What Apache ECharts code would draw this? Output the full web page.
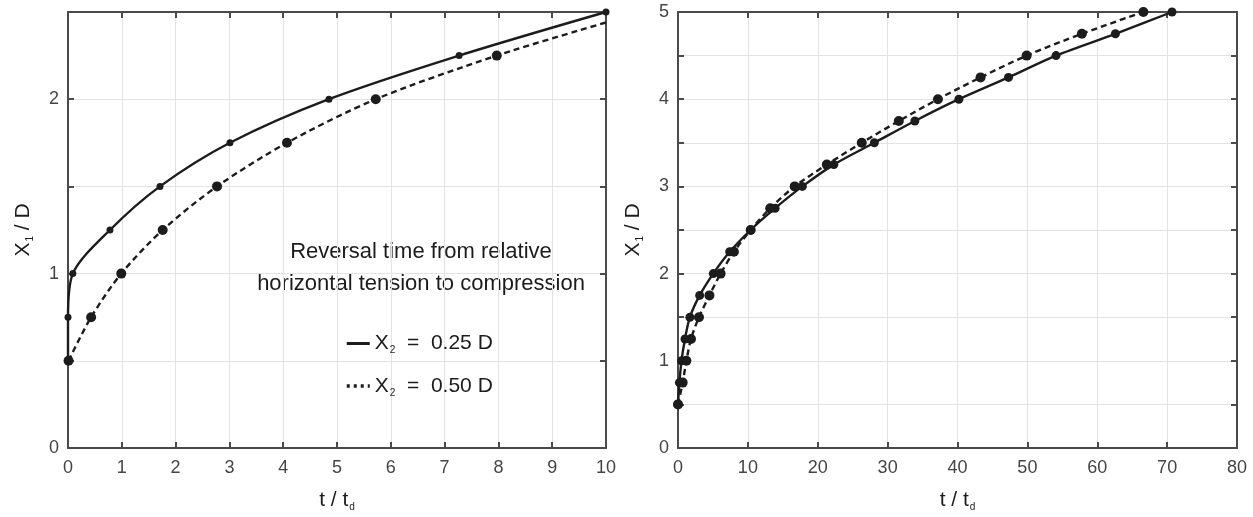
<!DOCTYPE html>
<html><head><meta charset="utf-8">
<script src="https://cdn.jsdelivr.net/npm/echarts@6/dist/echarts.min.js"></script>
<style>html,body{margin:0;padding:0;background:#fff}#c{width:1253px;height:517px}</style>
</head><body><div id="c"></div>
<script>
// ---- Left panel data (t / t_d vs X1 / D) ----
const leftX1_025 = [0.5, 0.75, 1.0, 1.25, 1.5, 1.75, 2.0, 2.25, 2.5];
const leftT_025  = [0, 0, 0.09, 0.78, 1.71, 3.01, 4.85, 7.27, 10.0];
const leftX1_050 = [0.5, 0.75, 1.0, 1.25, 1.5, 1.75, 2.0, 2.25];
const leftT_050  = [0.01, 0.43, 0.99, 1.76, 2.77, 4.07, 5.72, 7.97];
const leftEnd_050 = [10.0, 2.44]; // curve end without marker
// ---- Right panel data ----
const rightX1 = [0.5, 0.75, 1.0, 1.25, 1.5, 1.75, 2.0, 2.25, 2.5, 2.75, 3.0, 3.25, 3.5, 3.75, 4.0, 4.25, 4.5, 4.75, 5.0];
const rightT_solid  = [0, 0.2, 0.5, 1.0, 1.7, 3.1, 5.05, 7.4, 10.4, 13.9, 17.8, 22.3, 28.1, 33.9, 40.2, 47.3, 54.1, 62.6, 70.7];
const rightT_dashed = [0, 0.67, 1.2, 1.86, 3.0, 4.5, 6.1, 8.0, 10.4, 13.2, 16.7, 21.3, 26.3, 31.6, 37.2, 43.3, 49.9, 57.8, 66.6];
// ---- Axis ticks ----
const leftXTicks = [0, 10, 1];
const leftYTicks = [0, 2.5, 0.5];
const rightXTicks = [0, 80, 10];
const rightYTicks = [0, 5, 0.5];
const legendNames = ['X2 = 0.25 D', 'X2 = 0.50 D'];
const noteLines = ['Reversal time from relative', 'horizontal tension to compression'];

const FONT = '"Liberation Sans", Arial, Helvetica, sans-serif';
const AX = '#4a4a4a';
const INK = '#1c1c1c';

function zip(xs, ys) { return xs.map((x, i) => [x, ys[i]]); }

const nameRich = {
  n: { fontSize: 21, color: INK, fontFamily: FONT },
  s: { fontSize: 10, color: INK, fontFamily: FONT, padding: [14, 0, 0, 1] }
};

function xAx(grid, t, top, nameText) {
  return {
    type: 'value', gridIndex: grid, position: top ? 'top' : 'bottom',
    min: t[0], max: t[1], interval: t[2],
    axisLine: { show: true, onZero: false, lineStyle: { color: AX, width: 2 } },
    axisTick: { show: true, inside: true, length: 6, lineStyle: { color: AX, width: 2 } },
    axisLabel: { show: !top, fontSize: 18, color: '#454545', fontFamily: FONT, margin: 11, showMinLabel: true, showMaxLabel: true },
    splitLine: { show: !top, lineStyle: { color: '#e3e3e3', width: 1 } },
    name: top ? '' : nameText, nameLocation: 'middle', nameGap: 40,
    nameTextStyle: { rich: nameRich }
  };
}
function yAx(grid, t, right, nameText) {
  return {
    type: 'value', gridIndex: grid, position: right ? 'right' : 'left',
    min: t[0], max: t[1], interval: t[2],
    axisLine: { show: true, onZero: false, lineStyle: { color: AX, width: 2 } },
    axisTick: { show: true, inside: true, length: 6, lineStyle: { color: AX, width: 2 } },
    axisLabel: { show: !right, fontSize: 18, color: '#454545', fontFamily: FONT, margin: 9,
      showMinLabel: true, showMaxLabel: true,
      formatter: v => (Math.abs(v - Math.round(v)) < 1e-9 ? String(Math.round(v)) : '') },
    splitLine: { show: !right, lineStyle: { color: '#e3e3e3', width: 1 } },
    name: right ? '' : nameText, nameLocation: 'middle', nameGap: 33, nameRotate: 90,
    nameTextStyle: { rich: nameRich }
  };
}

const xName = '{n|t / t}{s|d}';
const yName = '{n|X}{s|1}{n| / D}';

const solidLine = { color: INK, width: 2.4, type: 'solid' };
const dashLine = { color: INK, width: 2.4, type: [6, 4] };

const option = {
  animation: false,
  backgroundColor: '#fff',
  textStyle: { fontFamily: FONT },
  grid: [
    { left: 68, top: 12, width: 538, height: 440 },
    { left: 678, top: 12, width: 559, height: 440 }
  ],
  xAxis: [xAx(0, leftXTicks, false, xName), xAx(0, leftXTicks, true),
          xAx(1, rightXTicks, false, xName), xAx(1, rightXTicks, true)],
  yAxis: [yAx(0, leftYTicks, false, yName), yAx(0, leftYTicks, true),
          yAx(1, rightYTicks, false, yName), yAx(1, rightYTicks, true)],
  legend: {
    data: [
      { name: legendNames[0] },
      { name: legendNames[1], lineStyle: { type: [3, 4], width: 3.5 } }
    ],
    orient: 'vertical', left: 340, top: 328, itemGap: 20,
    itemWidth: 23, itemHeight: 14,
    itemStyle: { opacity: 0 },
    lineStyle: { width: 3 },
    formatter: n => n === legendNames[0] ? '{n|X}{s|2}{n|  =  0.25 D}' : '{n|X}{s|2}{n|  =  0.50 D}',
    textStyle: { rich: {
      n: { fontSize: 21, color: INK, fontFamily: FONT },
      s: { fontSize: 10, color: INK, fontFamily: FONT, padding: [14, 0, 0, 1] } } }
  },
  graphic: [{
    type: 'text', x: 421, y: 268,
    style: { text: noteLines.join('\n'), font: '22px ' + FONT, fill: INK,
      align: 'center', verticalAlign: 'middle', lineHeight: 32 }
  }],
  series: [
    { name: legendNames[0], type: 'line', xAxisIndex: 0, yAxisIndex: 0,
      data: zip(leftT_025, leftX1_025), smooth: 0.3, symbol: 'circle', symbolSize: 7,
      itemStyle: { color: INK }, lineStyle: solidLine, z: 3 },
    { name: legendNames[1], type: 'line', xAxisIndex: 0, yAxisIndex: 0,
      data: zip(leftT_050, leftX1_050).concat([{ value: leftEnd_050, symbol: 'none' }]),
      smooth: 0.3, symbol: 'circle', symbolSize: 10,
      itemStyle: { color: INK }, lineStyle: dashLine, z: 3 },
    { name: 'r1', type: 'line', xAxisIndex: 2, yAxisIndex: 2,
      data: zip(rightT_solid, rightX1), smooth: 0.3, symbol: 'circle', symbolSize: 9,
      itemStyle: { color: INK }, lineStyle: solidLine, z: 3 },
    { name: 'r2', type: 'line', xAxisIndex: 2, yAxisIndex: 2,
      data: zip(rightT_dashed, rightX1), smooth: 0.3, symbol: 'circle', symbolSize: 10,
      itemStyle: { color: INK }, lineStyle: dashLine, z: 3 }
  ]
};
const chart = echarts.init(document.getElementById('c'), null, { renderer: 'canvas' });
chart.setOption(option);
</script></body></html>
